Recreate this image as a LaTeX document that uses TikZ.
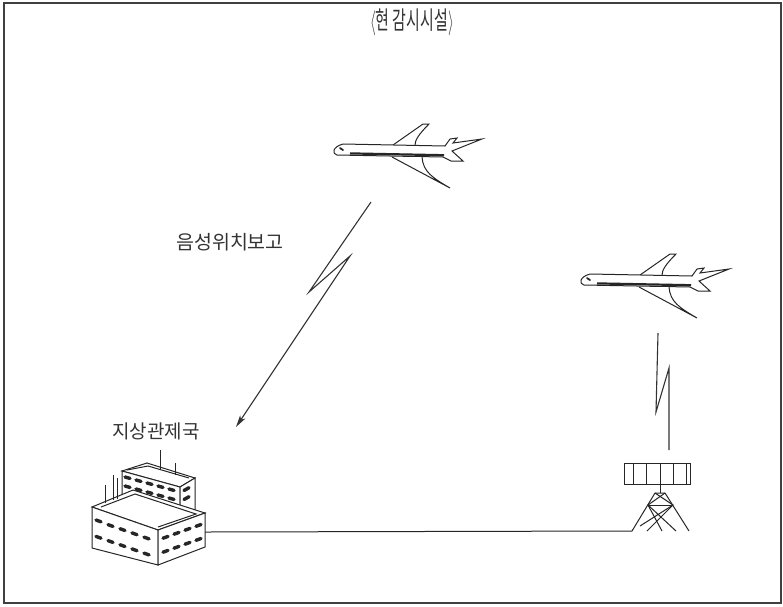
\documentclass[tikz,border=0pt]{standalone}
\usepackage{fontspec}
\newfontfamily\kr{Noto Sans CJK KR}
\usetikzlibrary{arrows.meta}

\tikzset{
  wire/.style={line width=1pt, draw=black!85},
  bolt/.style={line width=1.1pt, draw=black!80},
  krtext/.style={font=\kr\fontsize{19}{19}\selectfont, text=black!80, inner sep=0pt},
  win/.style={line width=3.4pt, line cap=round, draw=black!85},
  jet/.pic={
    % far wing, fuselage, near wing
    \draw[wire, fill=white] (60,-5) -- (90,-26) -- (96,-26) .. controls (86,-16) and (82,-10) .. (82,-5);
    \draw[wire, fill=white] (10,-6) -- (112,-4) -- (117,-11) -- (124,-12) -- (120,-7) -- (149,-11)
      -- (119,1) -- (130,11) -- (118,11) -- (110,7) -- (4,5) .. controls (-1,4) and (-1,-3) .. (10,-6) -- cycle;
    \draw[wire, fill=white] (59,7) -- (117,38) .. controls (100,28) and (90,22) .. (89,7);
    \draw[line width=2.2pt, black!85] (17,3.4) -- (111,5.2);
    \draw[line width=1.8pt, black!85, line cap=round] (7,-2) -- (10,0);
  }
}

\begin{document}
\begin{tikzpicture}[x=1pt, y=-1pt, >={Stealth[length=12pt,width=6pt,inset=3pt]}]
  \useasboundingbox (0,0) rectangle (783,606);
  \draw[line width=1.2pt, black!75] (4,3) rectangle (781,603);

  \node[krtext, font=\kr\fontsize{25}{25}\selectfont] (title) at (412,22) {\scalebox{0.6}[1]{$\langle$현 감시시설$\rangle$}};
  \node[krtext, font=\kr\fontsize{19.5}{19.5}\selectfont] (voice) at (230,242) {음성위치보고};
  \node[krtext] (station) at (156,431) {지상관제국};

  \pic (air1) at (333,150) {jet};
  \pic (air2) at (580,280) {jet};

  % ground station: back block
  \draw[wire, fill=white] (122,471) -- (147,463) -- (195,478) -- (180,487) -- cycle;
  \draw[wire, fill=white] (122,471) -- (180,487) -- (180,510) -- (122,500) -- cycle;
  \draw[wire, fill=white] (180,487) -- (195,478) -- (195,512) -- (180,510) -- cycle;
  \draw[wire] (127,470) -- (148,466) -- (189,478);
  \draw[win] (125,477) -- ++(5,1.4) (136,480) -- ++(5,1.4) (147,483) -- ++(5,1.4) (158,486) -- ++(5,1.4) (169,489) -- ++(5,1.4);
  \draw[win] (125,486) -- ++(5,1.4) (136,489) -- ++(5,1.4) (147,492) -- ++(5,1.4) (158,495) -- ++(5,1.4) (169,498) -- ++(5,1.4);
  \draw[win] (184,490.5) -- ++(5,-2.8) (184,499.5) -- ++(5,-2.8);
  \draw[wire] (160,469) -- (160,450) (175,475) -- (175,463);

  % ground station: front block
  \draw[wire, fill=white] (92,507) -- (133,490) -- (205,513) -- (158,530) -- cycle;
  \draw[wire, fill=white] (92,507) -- (158,530) -- (158,565) -- (92,548) -- cycle;
  \draw[wire, fill=white] (158,530) -- (205,513) -- (205,547) -- (158,565) -- cycle;
  \draw[wire] (101,507) -- (135,494) -- (196,514) -- (158,527);
  \draw[win] (96,520) -- ++(5,1.8) (108,524.6) -- ++(5,1.8) (120,528.7) -- ++(5,1.8) (132,532.9) -- ++(5,1.8) (144,537.1) -- ++(5,1.8);
  \draw[win] (96,536.4) -- ++(5,1.8) (108,540.6) -- ++(5,1.8) (120,544.7) -- ++(5,1.8) (132,548.9) -- ++(5,1.8) (144,553.1) -- ++(5,1.8);
  \draw[win] (163,538.2) -- ++(5,-1.8) (174,534.2) -- ++(5,-1.8) (185,530.2) -- ++(5,-1.8) (196,526.3) -- ++(5,-1.8);
  \draw[win] (163,552.2) -- ++(5,-1.8) (174,548.2) -- ++(5,-1.8) (185,544.2) -- ++(5,-1.8) (196,540.3) -- ++(5,-1.8);
  \draw[wire] (105,503) -- (105,485) (113,500) -- (113,475) (117,499) -- (117,478);

  % radar tower
  \draw[wire] (624,463) grid[xstep=13.2, ystep=10.5] (690,484);
  \draw[wire] (624,463) rectangle (690,484);
  \draw[wire] (660,484) -- (660,493);
  \draw[wire] (632,531) -- (655,493) -- (665,493) -- (689,531);
  \draw[wire] (648,505) -- (673,505);
  \draw[wire] (655,493) -- (673,505) -- (647,531);
  \draw[wire] (665,493) -- (648,505) -- (662,531);
  \draw[wire] (648,505) -- (676,531) (673,505) -- (640,526);

  \coordinate (sig1) at (371,202);
  \coordinate (gnd1) at (236,427);
  \coordinate (sig2) at (658,333);
  \coordinate (ant) at (669,450);
  \coordinate (bldg) at (205,532);
  \coordinate (twr) at (632,531);

  \draw[bolt, ->] (sig1) -- ++(-62,90) -- ++(41,-36) -- (gnd1);
  \draw[bolt] (sig2) -- ++(-2,79) -- ++(13,-44) -- (ant);
  \draw[wire] (bldg) -- (twr);
\end{tikzpicture}
\end{document}
